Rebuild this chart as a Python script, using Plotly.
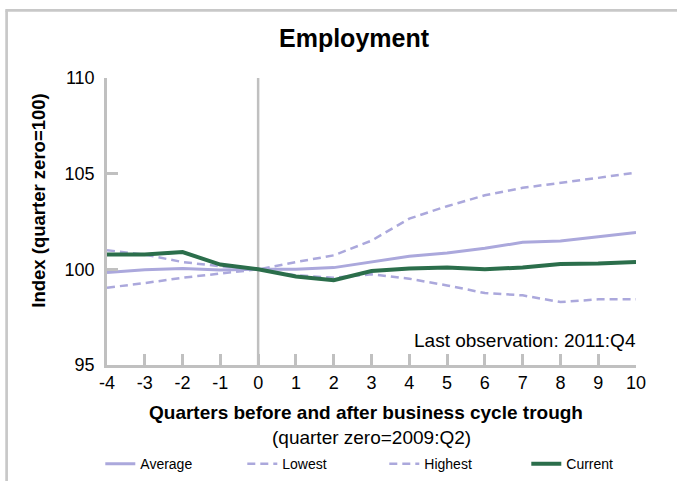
import plotly.graph_objects as go

quarters = list(range(-4, 11))
average = [99.83, 99.98, 100.05, 99.97, 100.0, 100.0, 100.09, 100.38, 100.68, 100.85, 101.1, 101.41, 101.48, 101.7, 101.92]
lowest = [101.0, 100.77, 100.38, 100.16, 100.0, 99.69, 99.56, 99.74, 99.51, 99.16, 98.76, 98.64, 98.29, 98.43, 98.43]
highest = [99.04, 99.28, 99.56, 99.77, 100.0, 100.38, 100.73, 101.5, 102.65, 103.3, 103.87, 104.26, 104.5, 104.78, 105.06]
current = [100.77, 100.77, 100.9, 100.25, 100.0, 99.63, 99.43, 99.91, 100.05, 100.1, 100.0, 100.1, 100.28, 100.3, 100.38]
x_ticks = list(range(-4, 11))
y_ticks = [95, 100, 105, 110]

W, H = 677, 481
L, R, T, B = 106.7, 41.3, 77.6, 116.3
PW, PH = W - L - R, H - T - B

def px(x):
    return (x - L) / PW

def py(y):
    return (H - B - y) / PH

FONT = "Liberation Sans, Arial, sans-serif"
LAV = "#aba8dc"
GREEN = "#2b6e4b"
GRAY = "#c0c0c0"

fig = go.Figure()
fig.add_trace(go.Scatter(x=quarters, y=average, name="Average", mode="lines",
                         line=dict(color=LAV, width=3)))
fig.add_trace(go.Scatter(x=quarters, y=lowest, name="Lowest", mode="lines",
                         line=dict(color=LAV, width=2.5, dash="8px,5px")))
fig.add_trace(go.Scatter(x=quarters, y=highest, name="Highest", mode="lines",
                         line=dict(color=LAV, width=2.5, dash="8px,5px")))
fig.add_trace(go.Scatter(x=quarters, y=current, name="Current", mode="lines",
                         line=dict(color=GREEN, width=4)))

fig.update_layout(
    width=W, height=H,
    margin=dict(l=L, r=R, t=T, b=B, pad=0, autoexpand=False),
    paper_bgcolor="white", plot_bgcolor="white",
    font=dict(family=FONT, color="black", size=18),
    showlegend=True,
    legend=dict(orientation="h", x=px(100), xanchor="left", y=py(464), yanchor="middle",
                font=dict(size=14), entrywidth=97, entrywidthmode="pixels",
                itemwidth=30, bgcolor="rgba(0,0,0,0)", traceorder="normal"),
    xaxis=dict(range=[-4, 10], tickvals=x_ticks, ticktext=[str(v) for v in x_ticks],
               showgrid=False, zeroline=False, showline=True, linecolor=GRAY, linewidth=2.5,
               ticks="inside", ticklen=11, tickwidth=2.5, tickcolor=GRAY,
               tickfont=dict(size=18), fixedrange=True),
    yaxis=dict(range=[95, 110], tickvals=y_ticks, ticktext=[str(v) for v in y_ticks],
               showgrid=False, zeroline=False, showline=True, linecolor=GRAY, linewidth=2.5,
               ticks="inside", ticklen=11, tickwidth=2.5, tickcolor=GRAY,
               tickfont=dict(size=18), ticklabelstandoff=6, fixedrange=True),
    shapes=[
        dict(type="line", xref="x", yref="y", x0=0, x1=0, y0=95, y1=110,
             line=dict(color=GRAY, width=2.5), layer="below"),
        dict(type="line", xref="paper", yref="paper", x0=px(6.3), x1=px(6.3), y0=py(485), y1=py(10),
             line=dict(color="#c8c8c8", width=2.7)),
        dict(type="line", xref="paper", yref="paper", x0=px(5), x1=px(680), y0=py(10), y1=py(10),
             line=dict(color="#c8c8c8", width=2.7)),
    ],
    annotations=[
        dict(text="<b>Employment</b>", xref="paper", yref="paper", x=px(354.5), y=py(38),
             xanchor="center", yanchor="middle", showarrow=False, font=dict(size=25)),
        dict(text="<b>Index (quarter zero=100)</b>", xref="paper", yref="paper", x=px(38), y=py(200),
             xanchor="center", yanchor="middle", showarrow=False, textangle=-90, font=dict(size=18.5)),
        dict(text="<b>Quarters before and after business cycle trough</b>", xref="paper", yref="paper",
             x=px(365.5), y=py(412), xanchor="center", yanchor="middle", showarrow=False, font=dict(size=19)),
        dict(text="(quarter zero=2009:Q2)", xref="paper", yref="paper",
             x=px(371), y=py(437), xanchor="center", yanchor="middle", showarrow=False, font=dict(size=19)),
        dict(text="Last observation: 2011:Q4", xref="paper", yref="paper",
             x=px(638), y=py(340), xanchor="right", yanchor="middle", showarrow=False, font=dict(size=19)),
    ],
)

fig.write_html("out.html", config={"displayModeBar": False},
               post_script="document.body.style.margin='0';document.body.style.overflow='hidden';")
